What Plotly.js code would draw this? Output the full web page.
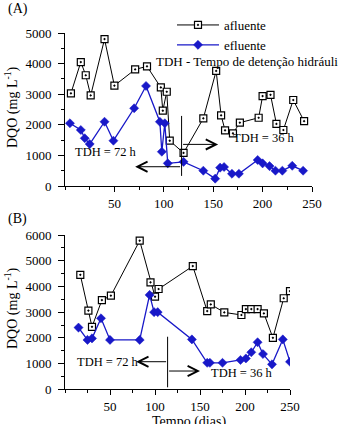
<!DOCTYPE html>
<html>
<head>
<meta charset="utf-8">
<script src="https://cdn.plot.ly/plotly-3.0.1.min.js"></script>
<style>html,body{margin:0;padding:0;background:#fff;}#chart{width:338px;height:424px;}</style>
</head>
<body>
<div id="chart"></div>
<script>
// Panel A data
var xA_af = [6,16,21,26,40,50,71,83,97,99,103,106,120,140,153,158,162,170,177,196,200,208,214,221,231,242];
var yA_af = [3030,4050,3620,2960,4800,3280,3810,3910,3220,2460,3080,1480,1080,2210,3760,2310,1820,1720,2070,2230,2940,2980,2030,1830,2810,2120];
var xA_ef = [5,16,20,25,40,49,70,82,96,98,101,104,120,140,152,157,161,169,176,195,200,207,213,220,230,241];
var yA_ef = [2050,1830,1560,1370,2100,1480,2540,3270,2100,1120,2050,740,790,500,240,600,620,400,400,850,740,650,500,500,660,500];
// Panel B data
var xB_af = [17,26,30,41,51,83,95,100,104,142,158,162,177,196,201,207,214,221,231,243,250];
var yB_af = [4450,3060,2430,3470,3640,5780,4160,3600,3900,4790,3040,3300,2990,2890,3120,3120,3120,2950,2000,3540,3820];
var xB_ef = [15,25,30,40,50,83,94,99,103,141,158,161,175,195,201,207,214,220,230,242,250];
var yB_ef = [2400,1920,1980,2760,1920,1920,3670,3000,3000,1940,1030,1030,1030,1140,1200,1440,1830,1370,970,1940,1070];
var seriesNames = ['afluente','efluente'];
var xTicks = [50,100,150,200,250];

var W = 338, H = 424;
function px(x){return x/W;}
function py(y){return 1 - y/H;}
var FONT = 'Liberation Serif';
var BLUE = '#1818c8';

var afMarker = {symbol:'square-dot', size:7, color:'#ffffff', line:{color:'#000000', width:1.2}};
var efMarker = {symbol:'diamond', size:7, color:BLUE, line:{color:BLUE, width:0.5}};

var traces = [
  {x:xA_af, y:yA_af, xaxis:'x', yaxis:'y', mode:'lines+markers', name:seriesNames[0],
   line:{color:'#000000', width:1}, marker:afMarker},
  {x:xA_ef, y:yA_ef, xaxis:'x', yaxis:'y', mode:'lines+markers', name:seriesNames[1],
   line:{color:BLUE, width:1.3}, marker:efMarker},
  {x:xB_af, y:yB_af, xaxis:'x2', yaxis:'y2', mode:'lines+markers', name:seriesNames[0], showlegend:false,
   line:{color:'#000000', width:1}, marker:afMarker},
  {x:xB_ef, y:yB_ef, xaxis:'x2', yaxis:'y2', mode:'lines+markers', name:seriesNames[1], showlegend:false,
   line:{color:BLUE, width:1.3}, marker:efMarker}
];

function xaxisDef(domain, anchor){
  return {domain:domain, anchor:anchor, range:[0,250], showline:true, linecolor:'#000', linewidth:1,
    showgrid:false, zeroline:false, ticks:'outside', ticklen:5, tickwidth:1, tickcolor:'#000',
    tickmode:'array', tickvals:xTicks, ticktext:xTicks.map(String),
    minor:{tick0:0, dtick:25, ticks:'outside', ticklen:3, tickwidth:1, tickcolor:'#000', showgrid:false},
    tickfont:{family:FONT, size:13, color:'#000'}, ticklabelstandoff:0, fixedrange:true};
}
function yaxisDef(domain, anchor, maxv){
  return {domain:domain, anchor:anchor, range:[0,maxv], showline:true, linecolor:'#000', linewidth:1,
    showgrid:false, zeroline:false, ticks:'outside', ticklen:6, tickwidth:1, tickcolor:'#000',
    tick0:0, dtick:1000,
    minor:{dtick:500, ticks:'outside', ticklen:3, tickwidth:1, tickcolor:'#000', showgrid:false},
    tickfont:{family:FONT, size:13, color:'#000'}, ticklabelstandoff:4, fixedrange:true};
}

var txt = {family:FONT, size:12.5, color:'#000'};
var annotations = [
  {xref:'paper', yref:'paper', x:px(6), y:py(9), xanchor:'left', yanchor:'middle', text:'(A)', showarrow:false, font:{family:FONT,size:14,color:'#000'}},
  {xref:'paper', yref:'paper', x:px(6), y:py(219), xanchor:'left', yanchor:'middle', text:'(B)', showarrow:false, font:{family:FONT,size:14,color:'#000'}},
  {xref:'paper', yref:'paper', x:px(11), y:py(107), xanchor:'center', yanchor:'middle', textangle:-90, text:'DQO (mg L<sup>-1</sup>)', showarrow:false, font:{family:FONT,size:14,color:'#000'}},
  {xref:'paper', yref:'paper', x:px(11), y:py(308), xanchor:'center', yanchor:'middle', textangle:-90, text:'DQO (mg L<sup>-1</sup>)', showarrow:false, font:{family:FONT,size:14,color:'#000'}},
  {xref:'paper', yref:'paper', x:px(189), y:py(412), xanchor:'center', yanchor:'top', text:'Tempo (dias)', showarrow:false, font:{family:FONT,size:14,color:'#000'}},
  {xref:'paper', yref:'paper', x:px(154), y:py(61), xanchor:'left', yanchor:'middle', text:'TDH - Tempo de detenção hidráulica', showarrow:false, font:{family:FONT,size:13,color:'#000'}},
  // Panel A TDH
  {xref:'x', yref:'y', x:8, y:1110, xanchor:'left', yanchor:'middle', text:'TDH = 72 h', showarrow:false, font:txt},
  {xref:'x', yref:'y', x:168, y:1570, xanchor:'left', yanchor:'middle', text:'TDH = 36 h', showarrow:false, font:txt},
  {xref:'x', yref:'y', axref:'x', ayref:'y', x:71, y:630, ax:118, ay:630, text:'', showarrow:true, arrowhead:5, arrowsize:2, arrowwidth:1, arrowcolor:'#000', standoff:0},
  {xref:'x', yref:'y', axref:'x', ayref:'y', x:155, y:1360, ax:118, ay:1360, text:'', showarrow:true, arrowhead:5, arrowsize:2, arrowwidth:1, arrowcolor:'#000', standoff:0},
  // Panel B TDH
  {xref:'x2', yref:'y2', x:11, y:1073, xanchor:'left', yanchor:'middle', text:'TDH = 72 h', showarrow:false, font:txt},
  {xref:'x2', yref:'y2', x:160, y:645, xanchor:'left', yanchor:'middle', text:'TDH = 36 h', showarrow:false, font:txt},
  {xref:'x2', yref:'y2', axref:'x2', ayref:'y2', x:79, y:1073, ax:114, ay:1073, text:'', showarrow:true, arrowhead:5, arrowsize:2, arrowwidth:1, arrowcolor:'#000', standoff:0},
  {xref:'x2', yref:'y2', axref:'x2', ayref:'y2', x:150, y:711, ax:114, ay:711, text:'', showarrow:true, arrowhead:5, arrowsize:2, arrowwidth:1, arrowcolor:'#000', standoff:0}
];

var shapes = [
  {type:'line', xref:'x', yref:'y', x0:118, x1:118, y0:330, y1:2290, line:{color:'#000', width:1}},
  {type:'line', xref:'x2', yref:'y2', x0:114, x1:114, y0:78, y1:2044, line:{color:'#000', width:1}}
];

var layout = {
  width:W, height:H, margin:{l:0,r:0,t:0,b:0}, paper_bgcolor:'#fff', plot_bgcolor:'rgba(0,0,0,0)',
  font:{family:FONT, color:'#000'},
  showlegend:true,
  legend:{x:px(172), y:py(10), xanchor:'left', yanchor:'top', bgcolor:'rgba(0,0,0,0)', borderwidth:0,
    font:{family:FONT, size:13, color:'#000'}, itemwidth:42, tracegroupgap:0},
  xaxis:xaxisDef([65/W, 312/W], 'y'),
  yaxis:yaxisDef([1-186/H, 1-33/H], 'x', 5000),
  xaxis2:xaxisDef([65/W, 290/W], 'y2'),
  yaxis2:yaxisDef([1-389.3/H, 1-235/H], 'x2', 6000),
  annotations:annotations, shapes:shapes
};

Plotly.newPlot('chart', traces, layout, {displayModeBar:false, staticPlot:true});
</script>
</body>
</html>
